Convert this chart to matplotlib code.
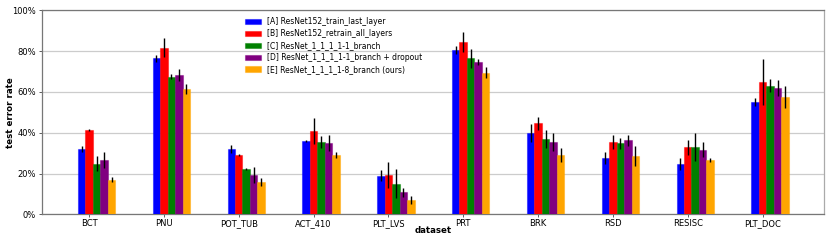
import matplotlib
matplotlib.use("Agg")
import matplotlib.pyplot as plt
import numpy as np
from matplotlib.colors import to_rgba

datasets = ["BCT", "PNU", "POT_TUB", "ACT_410", "PLT_LVS", "PRT", "BRK", "RSD", "RESISC", "PLT_DOC"]
series_names = [
    "[A] ResNet152_train_last_layer",
    "[B] ResNet152_retrain_all_layers",
    "[C] ResNet_1_1_1_1-1_branch",
    "[D] ResNet_1_1_1_1-1_branch + dropout",
    "[E] ResNet_1_1_1_1-8_branch (ours)",
]
colors = ["blue", "red", "green", "purple", "orange"]

a_mean = [32.0, 76.5, 31.9, 35.9, 18.9, 80.5, 39.7, 27.6, 24.7, 55.0]
a_err = [1.6, 1.8, 2.0, 0.7, 2.8, 2.0, 4.5, 3.0, 3.1, 2.1]
b_mean = [41.2, 81.7, 29.1, 40.8, 19.3, 84.6, 44.6, 35.3, 32.8, 64.7]
b_err = [0.5, 4.7, 0.5, 6.2, 6.3, 4.9, 3.1, 3.4, 3.5, 11.3]
c_mean = [24.7, 67.5, 22.4, 35.4, 15.0, 76.5, 36.9, 34.8, 33.0, 63.0]
c_err = [3.7, 1.3, 0.5, 2.8, 7.0, 4.7, 4.2, 2.8, 7.0, 3.1]
d_mean = [26.5, 68.3, 19.3, 35.0, 10.8, 74.5, 35.3, 36.4, 31.7, 61.9]
d_err = [4.0, 3.0, 3.8, 3.9, 2.2, 1.4, 4.4, 2.7, 3.5, 4.1]
e_mean = [17.0, 61.6, 15.8, 29.1, 7.2, 69.4, 29.1, 28.7, 26.6, 57.5]
e_err = [1.2, 2.5, 2.0, 1.5, 2.0, 2.8, 3.4, 5.0, 0.8, 5.4]

means = [a_mean, b_mean, c_mean, d_mean, e_mean]
errs = [a_err, b_err, c_err, d_err, e_err]

fig = plt.figure(figsize=(8.3, 2.42), dpi=100)
ax = fig.add_axes([42.3 / 830, 1 - 214.3 / 242, (824.3 - 42.3) / 830, (214.3 - 10.3) / 242])

x = np.arange(len(datasets))
w = 0.1
for i in range(5):
    ax.bar(x + (i - 1) * w, np.array(means[i]) / 100, w,
           yerr=np.array(errs[i]) / 100,
           color=colors[i], edgecolor=to_rgba(colors[i], 0.45), linewidth=0.8,
           error_kw=dict(ecolor="black", elinewidth=1.0, capsize=0),
           label=series_names[i], zorder=3)

ax.set_ylim(0, 1)
ax.set_yticks([0, 0.2, 0.4, 0.6, 0.8, 1.0])
ax.set_yticklabels(["0%", "20%", "40%", "60%", "80%", "100%"])
ax.set_xticks(x)
ax.set_xticklabels(datasets)
ax.tick_params(axis="both", labelsize=6, length=2.5, width=0.6, pad=2, colors="#444444", labelcolor="black")
ax.tick_params(axis="x", pad=1.2)
ax.yaxis.grid(True, color="#cccccc", linewidth=0.9, zorder=0)
ax.set_axisbelow(True)
for s in ax.spines.values():
    s.set_color("#777777")
    s.set_linewidth(0.9)
ax.spines["right"].set_color("#aaaaaa")

ax.set_ylabel("test error rate", fontsize=6.2, fontweight="bold")
ax.set_xlabel("dataset", fontsize=6.2, fontweight="bold")
ax.yaxis.set_label_coords(-0.0355, 0.5)
ax.xaxis.set_label_coords(0.5, -0.057)

ax.legend(loc="upper left", bbox_to_anchor=(0.251, 1.0), frameon=False,
          fontsize=5.5, labelspacing=0.38, handlelength=2.0, handletextpad=0.8,
          borderpad=0.4)

fig.savefig("out.png", dpi=100)
